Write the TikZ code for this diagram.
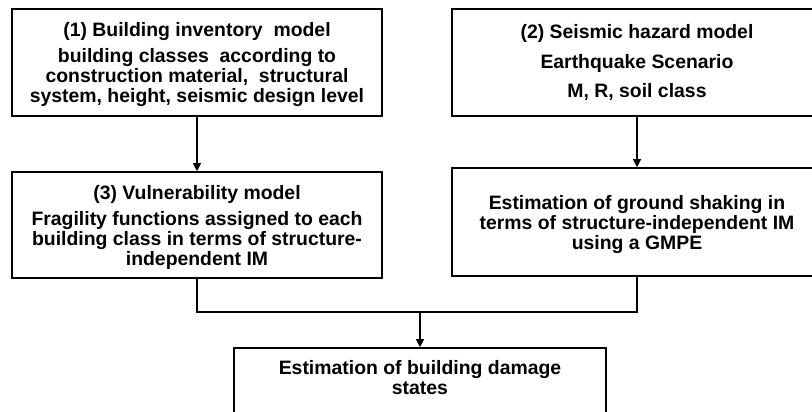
\documentclass[tikz,border=0pt]{standalone}
\usepackage{fontspec}
\setmainfont{Liberation Sans}
\usetikzlibrary{arrows.meta}
\begin{document}
\begin{tikzpicture}[x=1pt, y=-1pt,
   every node/.style={font=\fontsize{19.4}{20}\selectfont\bfseries, align=center},
   box/.style={draw, line width=1.6pt, minimum width=370pt, inner sep=0pt},
   link/.style={line width=1.1pt},
   arrow/.style={link, -{Triangle[length=8pt, width=8pt]}}]
\useasboundingbox (0,0) rectangle (812,412);
\node[box, minimum height=107pt, text depth=0pt] (inventory) at (197,62.5)
  {(1) Building inventory\ \ model\\[6pt]
   building classes\ \ according to\\
   construction material,\ \ structural\\
   system, height, seismic design level};
\node[box, minimum height=107pt] (hazard) at (637,62.5)
  {(2) Seismic hazard model\\[9.5pt]
   Earthquake Scenario\\[9.5pt]
   M, R, soil class};
\node[box, minimum height=106pt, text depth=-4pt] (vulner) at (197,225)
  {(3) Vulnerability model\\[6pt]
   Fragility functions assigned to each\\
   building class in terms of structure-\\
   independent IM};
\node[box, minimum height=108pt, text depth=-4pt] (shaking) at (637,222)
  {Estimation of ground shaking in\\
   terms of structure-independent IM\\
   using a GMPE};
% lower edge lies below the page, as in the source figure
\node[box, minimum width=372pt, minimum height=74pt, text depth=15pt] (damage) at (420,385)
  {Estimation of building damage\\
   states};
\coordinate (join) at (420,312);
\draw[arrow] (inventory.south) -- (vulner.north);
\draw[arrow] (hazard.south) -- (shaking.north);
\draw[link] (vulner.south) |- (join);
\draw[link] (shaking.south) |- (join);
\draw[arrow] (join) -- (damage.north);
\end{tikzpicture}
\end{document}
